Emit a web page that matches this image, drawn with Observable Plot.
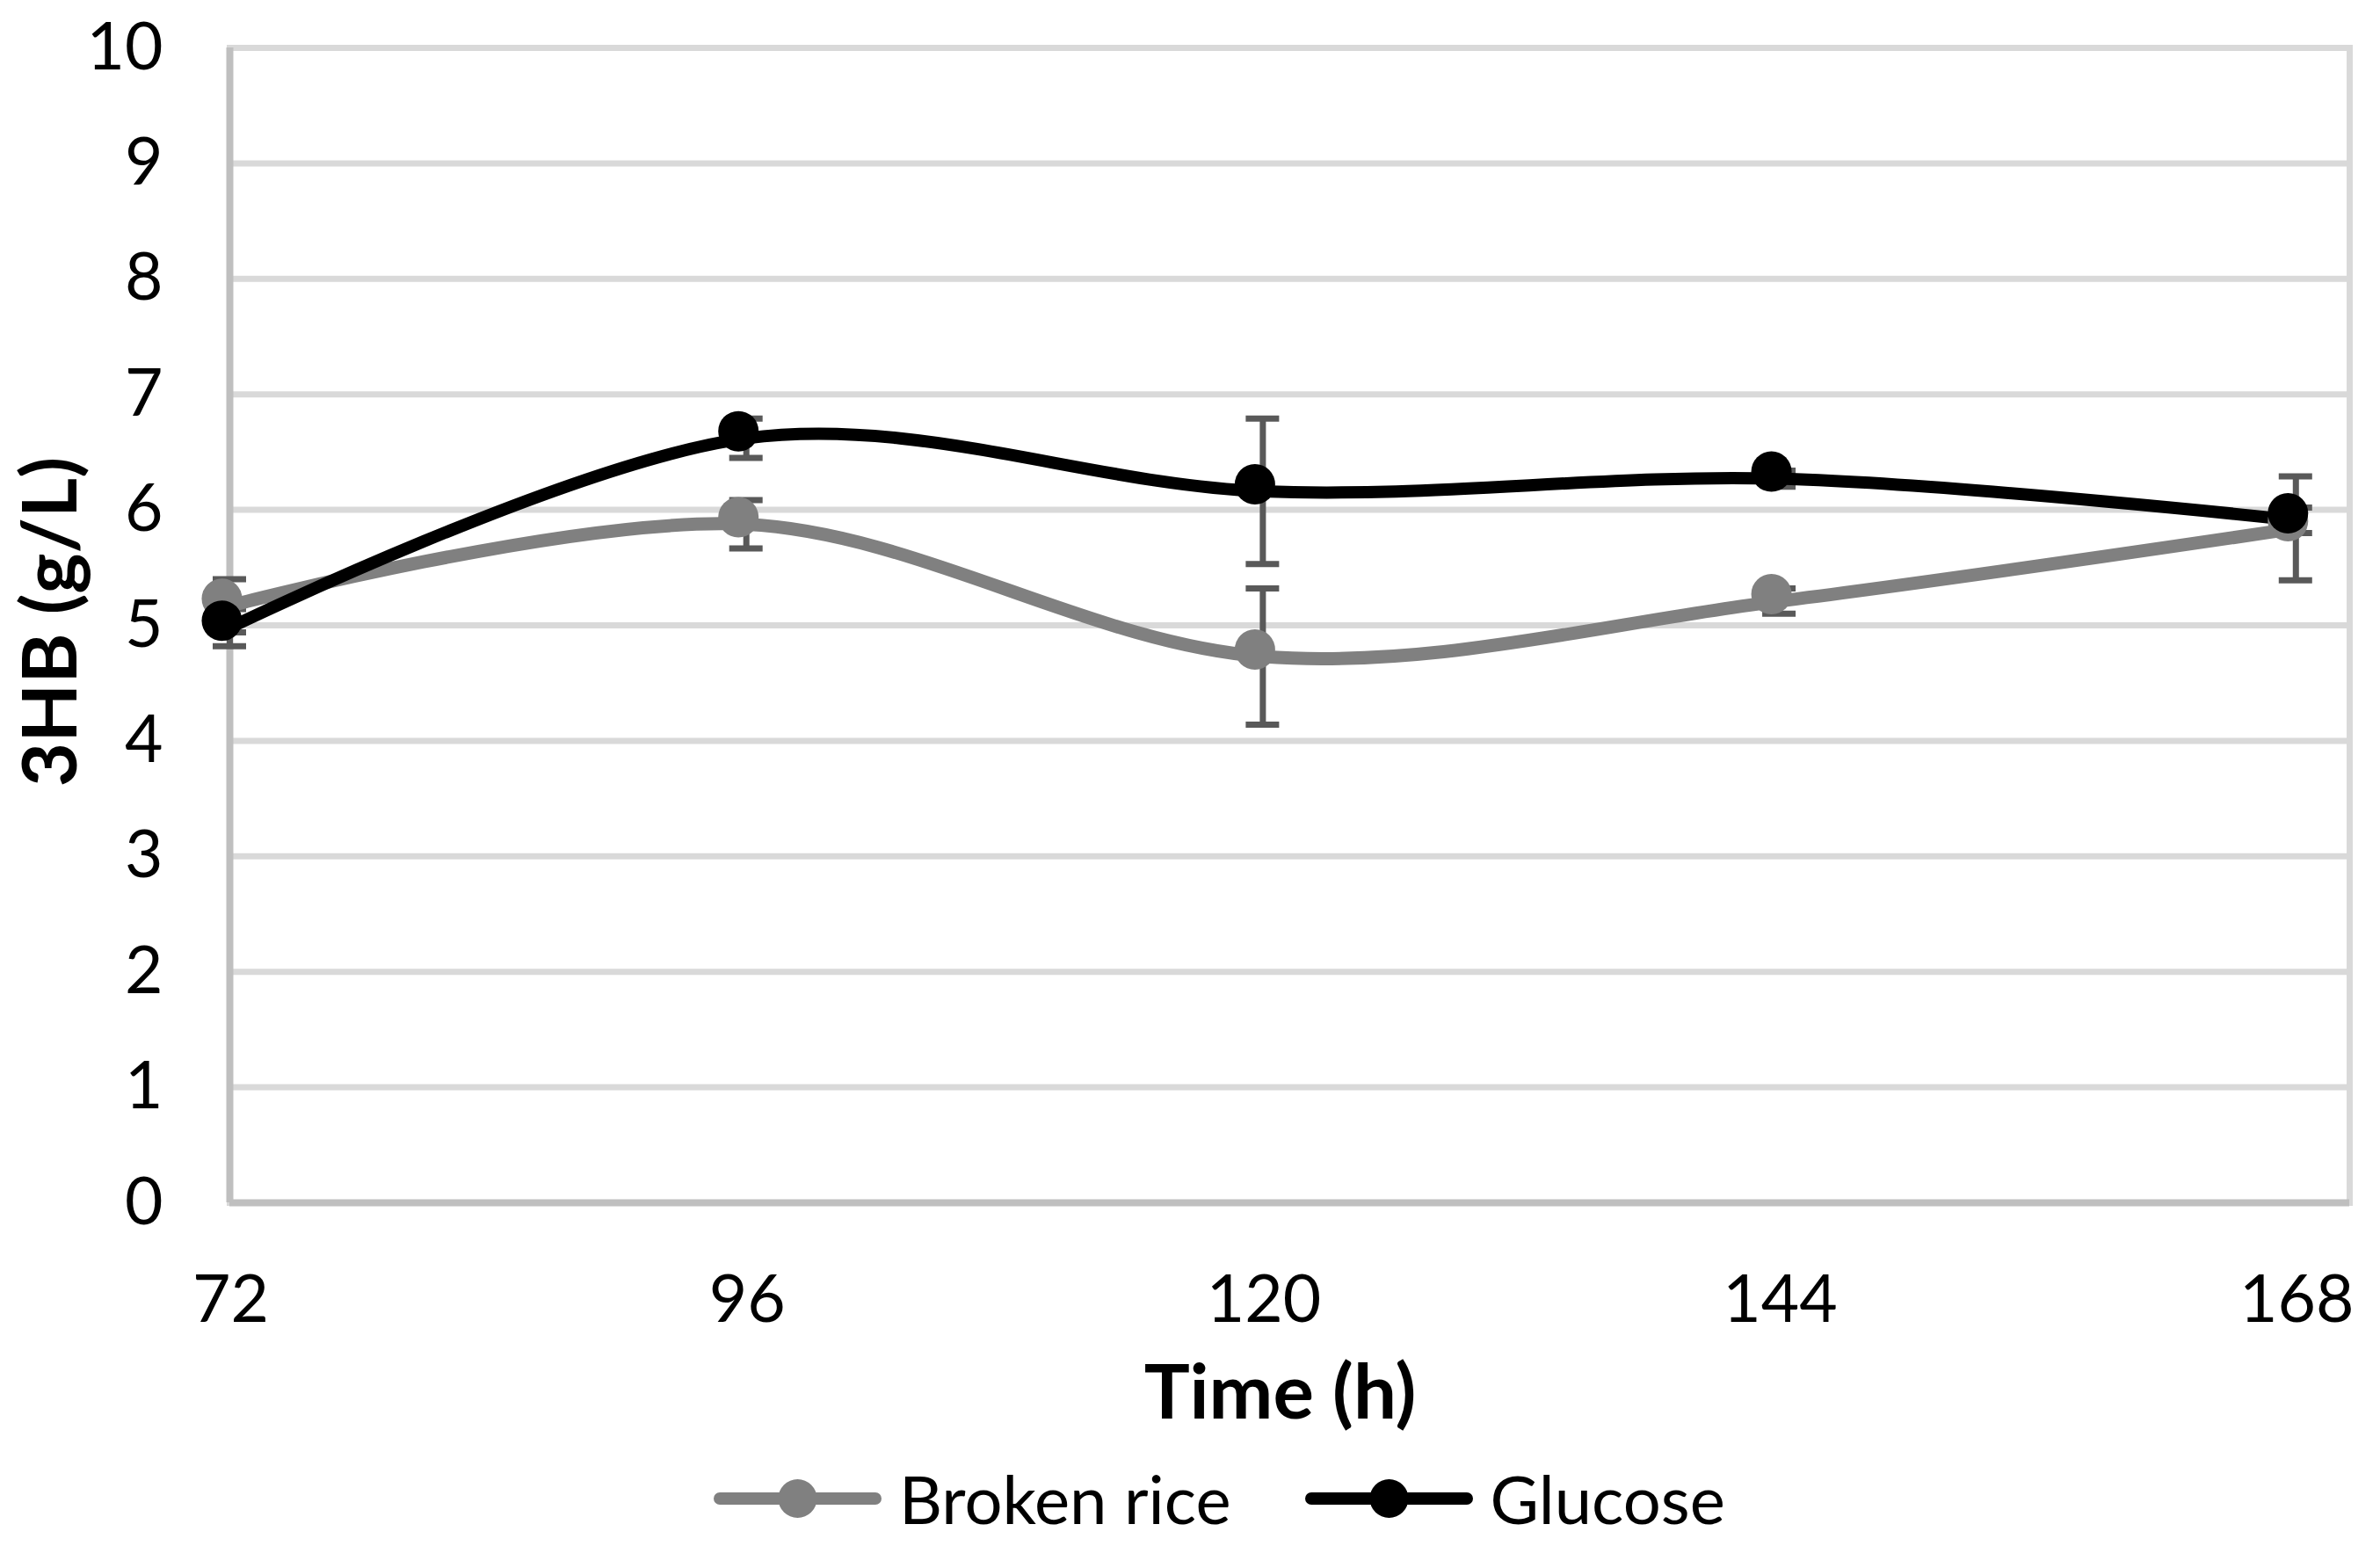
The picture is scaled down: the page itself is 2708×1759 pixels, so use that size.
<!DOCTYPE html>
<html>
<head>
<meta charset="utf-8">
<script src="https://cdn.jsdelivr.net/npm/d3@7"></script>
<script src="https://cdn.jsdelivr.net/npm/@observablehq/plot@0.6"></script>
<style>
  html, body { margin: 0; padding: 0; background: #fff; }
  body { width: 2708px; height: 1759px; overflow: hidden; font-family: Lato, "Open Sans", sans-serif; }
  #legend { display: flex; align-items: center; height: 109px; padding-left: 812px; font-size: 76px; color: #000; line-height: 1; }
  .item { display: flex; align-items: center; }
  .item svg { display: block; }
  .item span { margin-left: 20px; }
  .item + .item { margin-left: 84px; }
</style>
</head>
<body>
<div id="chart"></div>
<div id="legend"></div>
<script>
// ---- data ----
const times = [72, 96, 120, 144, 168];
const seriesNames = ["Broken rice", "Glucose"];
const riceMean = [5.17, 5.875, 4.73, 5.21, 5.84];
const riceErr = [0.23, 0.21, 0.59, 0.11, 0.45];
const glucoseMean = [4.98, 6.62, 6.16, 6.27, 5.91];
const glucoseErr = [0.16, 0.17, 0.63, 0.07, 0.11];
const yTicks = [0, 1, 2, 3, 4, 5, 6, 7, 8, 9, 10];
const xTicks = times;
const seriesColors = ["#808080", "#000000"];
const xTitle = "Time (h)";
const yTitle = "3HB (g/L)";

const rice = times.map((t, i) => ({time: t, value: riceMean[i], err: riceErr[i], series: seriesNames[0]}));
const glucose = times.map((t, i) => ({time: t, value: glucoseMean[i], err: glucoseErr[i], series: seriesNames[1]}));
const all = rice.concat(glucose);

const errStroke = "#595959";

const chart = Plot.plot({
  width: 2708,
  height: 1650,
  marginLeft: 261,
  marginRight: 35,
  marginTop: 54,
  marginBottom: 282,
  style: {fontFamily: "Lato, 'Open Sans', sans-serif", fontSize: "75px", color: "#000", background: "#fff", overflow: "visible"},
  x: {domain: [72, 170.5]},
  y: {domain: [0, 10]},
  marks: [
    Plot.ruleY(yTicks.filter(d => d > 0), {stroke: "#d9d9d9", strokeWidth: 7}),
    Plot.frame({stroke: "#d9d9d9", strokeWidth: 7}),
    Plot.ruleX([72], {stroke: "#bfbfbf", strokeWidth: 8}),
    Plot.ruleY([0], {stroke: "#bfbfbf", strokeWidth: 8}),
    Plot.axisX({ticks: xTicks, tickSize: 0, tickPadding: 82, dx: 1, label: null}),
    Plot.axisY({ticks: yTicks, tickSize: 0, tickPadding: 76, label: null}),
    // error bars
    Plot.ruleX(all, {x: "time", y1: d => d.value - d.err, y2: d => d.value + d.err, stroke: errStroke, strokeWidth: 7}),
    Plot.ruleY(all, {y: d => d.value + d.err, x1: "time", x2: "time", insetLeft: -19, insetRight: -19, stroke: errStroke, strokeWidth: 7}),
    Plot.ruleY(all, {y: d => d.value - d.err, x1: "time", x2: "time", insetLeft: -19, insetRight: -19, stroke: errStroke, strokeWidth: 7}),
    // lines
    Plot.line(rice, {x: "time", y: "value", stroke: seriesColors[0], strokeWidth: 15, curve: "cardinal"}),
    Plot.line(glucose, {x: "time", y: "value", stroke: seriesColors[1], strokeWidth: 14, curve: "cardinal"}),
    // markers
    Plot.dot(rice, {x: "time", y: "value", r: 23, fill: seriesColors[0], stroke: "none", dx: -9, dy: -8}),
    Plot.dot(glucose, {x: "time", y: "value", r: 23, fill: seriesColors[1], stroke: "none", dx: -9, dy: -8}),
    // titles
    Plot.text([xTitle], {text: d => d, frameAnchor: "bottom", dy: 218, dx: -11, fontWeight: "bold", fontSize: 87, lineAnchor: "middle", textAnchor: "middle"}),
    Plot.text([yTitle], {text: d => d, frameAnchor: "left", dx: -202, dy: -4, rotate: -90, fontWeight: "bold", fontSize: 87, lineAnchor: "middle", textAnchor: "middle"})
  ]
});
document.getElementById("chart").appendChild(chart);

// legend
const legend = document.getElementById("legend");
seriesNames.forEach((name, i) => {
  const item = document.createElement("div");
  item.className = "item";
  item.innerHTML = `<svg width="191" height="50"><line x1="7" x2="184" y1="25" y2="25" stroke="${seriesColors[i]}" stroke-width="14" stroke-linecap="round"/><circle cx="95.5" cy="25" r="22" fill="${seriesColors[i]}"/></svg><span>${name}</span>`;
  legend.appendChild(item);
});
</script>
</body>
</html>
